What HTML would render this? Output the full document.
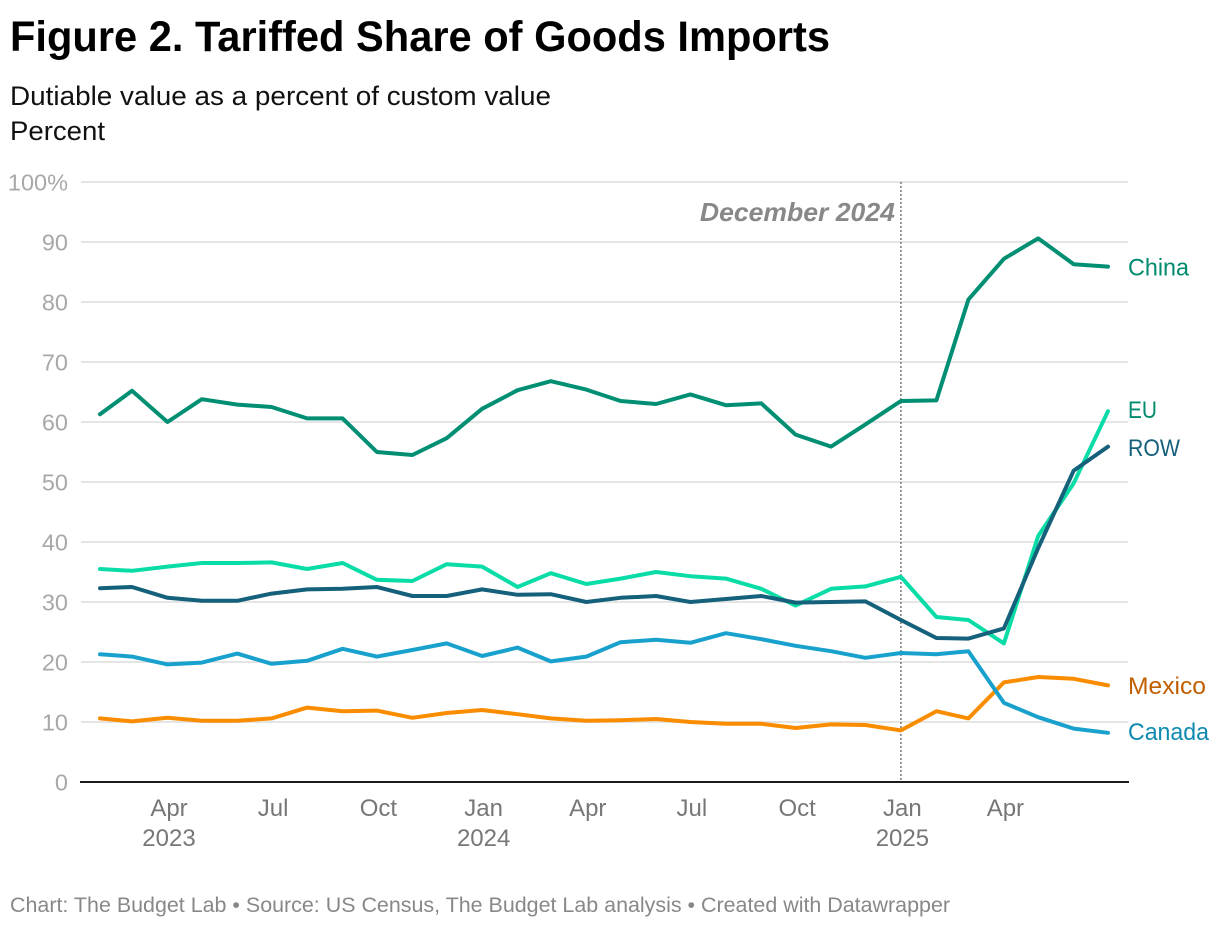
<!DOCTYPE html>
<html lang="en">
<head>
<meta charset="utf-8">
<title>Figure 2. Tariffed Share of Goods Imports</title>
<style>
html,body{margin:0;padding:0;background:#fff;}
body{width:1220px;height:928px;overflow:hidden;font-family:"Liberation Sans",sans-serif;}
svg{display:block;}
text{font-family:"Liberation Sans",sans-serif;}
</style>
</head>
<body>
<svg id="chart" xmlns="http://www.w3.org/2000/svg" width="1220" height="928" viewBox="0 0 1220 928">
  <text x="10" y="51" font-size="42.5" font-weight="700" fill="#000" textLength="820" lengthAdjust="spacingAndGlyphs">Figure 2. Tariffed Share of Goods Imports</text>
  <text x="10" y="105" font-size="27" fill="#111" textLength="541" lengthAdjust="spacingAndGlyphs">Dutiable value as a percent of custom value</text>
  <text x="10" y="140" font-size="27" fill="#111" textLength="95" lengthAdjust="spacingAndGlyphs">Percent</text>
  <g id="grid"></g>
  <g id="yticks"></g>
  <g id="xticks"></g>
  <line id="refline" y1="182" y2="782" stroke="#777" stroke-width="1.5" stroke-dasharray="2 2"></line>
  <text id="reflabel" y="221" font-size="26" font-weight="700" font-style="italic" fill="#888" text-anchor="end" textLength="195" lengthAdjust="spacingAndGlyphs">December 2024</text>
  <g id="lines"></g>
  <line id="baseline" x1="80" x2="1129" y1="782" y2="782" stroke="#1a1a1a" stroke-width="2"></line>
  <g id="labels"></g>
  <text x="10" y="912" font-size="21.5" fill="#888" textLength="940" lengthAdjust="spacingAndGlyphs">Chart: The Budget Lab • Source: US Census, The Budget Lab analysis • Created with Datawrapper</text>
</svg>
<script>
// Months run Feb 2023 through Jul 2025 (index 0 = Feb 2023) on a calendar-day time axis
const monthCount = 30;
const yTicks = [0, 10, 20, 30, 40, 50, 60, 70, 80, 90, 100];
const xTickMonths = [2, 5, 8, 11, 14, 17, 20, 23, 26];
const xTickNames = ["Apr", "Jul", "Oct", "Jan", "Apr", "Jul", "Oct", "Jan", "Apr"];
const xTickYears = ["2023", "", "", "2024", "", "", "", "2025", ""];
const referenceMonth = 23;

const china = [61.3, 65.2, 60.0, 63.8, 62.9, 62.5, 60.6, 60.6, 55.0, 54.5, 57.3, 62.2, 65.3, 66.8, 65.4, 63.5, 63.0, 64.6, 62.8, 63.1, 57.9, 55.9, 59.6, 63.5, 63.6, 80.4, 87.2, 90.6, 86.3, 85.9];
const eu = [35.5, 35.2, 35.9, 36.5, 36.5, 36.6, 35.5, 36.5, 33.7, 33.5, 36.3, 35.9, 32.5, 34.8, 33.0, 33.9, 35.0, 34.3, 33.9, 32.2, 29.4, 32.2, 32.6, 34.2, 27.5, 27.0, 23.1, 41.0, 49.8, 61.8];
const row = [32.3, 32.5, 30.7, 30.2, 30.2, 31.4, 32.1, 32.2, 32.5, 31.0, 31.0, 32.1, 31.2, 31.3, 30.0, 30.7, 31.0, 30.0, 30.5, 31.0, 29.9, 30.0, 30.1, 27.0, 24.0, 23.9, 25.6, 39.0, 51.9, 55.9];
const canada = [21.3, 20.9, 19.6, 19.9, 21.4, 19.7, 20.2, 22.2, 20.9, 22.0, 23.1, 21.0, 22.4, 20.1, 20.9, 23.3, 23.7, 23.2, 24.8, 23.8, 22.7, 21.8, 20.7, 21.5, 21.3, 21.8, 13.2, 10.8, 8.9, 8.2];
const mexico = [10.6, 10.1, 10.7, 10.2, 10.2, 10.6, 12.4, 11.8, 11.9, 10.7, 11.5, 12.0, 11.3, 10.6, 10.2, 10.3, 10.5, 10.0, 9.7, 9.7, 9.0, 9.6, 9.5, 8.6, 11.8, 10.6, 16.6, 17.5, 17.2, 16.1];

const NS = "http://www.w3.org/2000/svg";
const monthTime = i => Date.UTC(2023, 1 + i, 1);
const xScale = i => 100 + ((monthTime(i) - monthTime(0)) / (monthTime(monthCount - 1) - monthTime(0))) * 1008;
const yScale = v => 782 - v * 6;

function make(tag, attrs, parentId, text) {
  const el = document.createElementNS(NS, tag);
  for (const k in attrs) el.setAttribute(k, attrs[k]);
  if (text !== undefined) el.textContent = text;
  document.getElementById(parentId).appendChild(el);
  return el;
}

yTicks.forEach(t => {
  if (t > 0) {
    const g = make("line", {x1: 81, x2: 1128, y1: yScale(t), y2: yScale(t), stroke: "#e5e5e5", "stroke-width": 2}, "grid");
    
    
  }
  const lab = make("text", {x: 68, y: yScale(t) + 8.5, "font-size": 23.5, fill: "#a8a8a8", "text-anchor": "end"}, "yticks", t === 100 ? "100%" : String(t));
  
  
});

xTickMonths.forEach((m, i) => {
  const a = make("text", {x: xScale(m) + 1.5, y: 816, "font-size": 24, fill: "#777", "text-anchor": "middle"}, "xticks", xTickNames[i]);
  
  
  if (xTickYears[i]) {
    const b = make("text", {x: xScale(m) + 1.5, y: 846, "font-size": 24, fill: "#777", "text-anchor": "middle"}, "xticks", xTickYears[i]);
    
    
  }
});

const refLine = document.getElementById("refline");
refLine.setAttribute("x1", xScale(referenceMonth));
refLine.setAttribute("x2", xScale(referenceMonth));
document.getElementById("reflabel").setAttribute("x", xScale(referenceMonth) - 6);

function drawLine(values, color, name) {
  const d = values.map((v, i) => (i ? "L" : "M") + xScale(i).toFixed(1) + " " + yScale(v).toFixed(1)).join(" ");
  const p = make("path", {d: d, fill: "none", stroke: color, "stroke-width": 4, "stroke-linejoin": "round", "stroke-linecap": "round"}, "lines");
  
  
}
drawLine(mexico, "#fa8c00", "line-mexico");
drawLine(canada, "#18a1cd", "line-canada");
drawLine(eu, "#09dca6", "line-eu");
drawLine(row, "#15607a", "line-row");
drawLine(china, "#008f72", "line-china");

function drawLabel(text, y, color, width, name) {
  const l = make("text", {x: 1128, y: y, "font-size": 24, fill: color, textLength: width, lengthAdjust: "spacingAndGlyphs"}, "labels", text);
  
  
}
drawLabel("China", 275.5, "#008b6f", 61, "label-china");
drawLabel("EU", 418, "#008b6f", 29, "label-eu");
drawLabel("ROW", 456, "#15607a", 52, "label-row");
drawLabel("Mexico", 694, "#c15f00", 78, "label-mexico");
drawLabel("Canada", 740, "#0f8ab0", 81, "label-canada");
</script>
</body>
</html>
